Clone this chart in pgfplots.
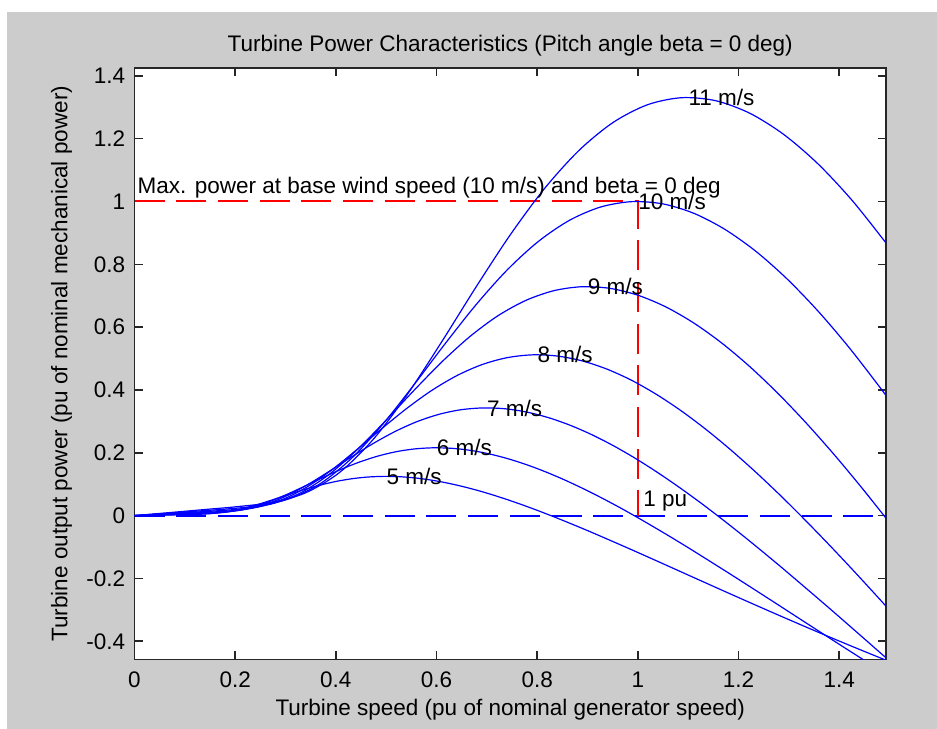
\documentclass[border=0pt]{standalone}
\usepackage{pgfplots}
\pgfplotsset{compat=1.18}
\usepackage{fontspec}
\setmainfont{Liberation Sans}
\definecolor{figgray}{HTML}{CCCCCC}
\definecolor{axgray}{HTML}{262626}
\definecolor{mblue}{RGB}{0,0,255}
\definecolor{mred}{RGB}{255,0,0}
\begin{document}
\fontsize{11.25bp}{13bp}\selectfont
\begin{tikzpicture}
\fill[white] (-67.25bp,-34.75bp) rectangle (401.25bp,329.75bp);
\fill[figgray] (-63.75bp,-34.75bp) rectangle (401.25bp,323.75bp);
\begin{axis}[
  at={(0,0)}, anchor=south west,
  scale only axis, width=375.75bp, height=295.75bp,
  xmin=0, xmax=1.493, ymin=-0.458, ymax=1.425,
  axis background/.style={fill=white},
  axis line style={line width=0.8bp, color=axgray},
  tick style={line width=0.8bp, color=axgray},
  major tick length=4bp, tick align=inside, tick pos=both,
  xtick={0,0.2,0.4,0.6,0.8,1,1.2,1.4},
  xticklabels={0,0.2,0.4,0.6,0.8,1,1.2,1.4},
  ytick={-0.4,-0.2,0,0.2,0.4,0.6,0.8,1,1.2,1.4},
  yticklabels={-0.4,-0.2,0,0.2,0.4,0.6,0.8,1,1.2,1.4},
  /pgf/number format/assume math mode=true,
  xticklabel style={inner sep=0pt, anchor=north, yshift=-6bp},
  yticklabel style={inner sep=0pt, anchor=east, xshift=-4.5bp},
  every axis title/.style={at={(axis description cs:0.5,1.0287)}, anchor=base, inner sep=0pt},
  every axis x label/.style={at={(axis description cs:0.5,-0.0955)}, anchor=base, inner sep=0pt},
  every axis y label/.style={at={(axis description cs:-0.0892,0.5)}, anchor=base, rotate=90, inner sep=0pt},
  title={Turbine Power Characteristics (Pitch angle beta = 0 deg)},
  xlabel={Turbine speed (pu of nominal generator speed)},
  ylabel={Turbine output power (pu of nominal mechanical power)},
  clip=true,
]
% zero line and max-power marker
\addplot[mblue, line width=1bp, dash pattern=on 15bp off 5.85bp] coordinates {(0,0) (1.5,0)};
\addplot[mred, line width=1bp, dash pattern=on 15bp off 5.85bp] coordinates {(0,1) (1,1) (1,0)};
% 5 m/s
\addplot[mblue, line width=0.6bp, smooth] coordinates {
(0,0) (0.0617,0.0018) (0.0926,0.0027) (0.1235,0.0039) (0.1543,0.0068) (0.1852,0.0129) (0.2160,0.0230) (0.2469,0.0365) (0.2778,0.0522) (0.3086,0.0685) (0.3395,0.0840) (0.3704,0.0978) (0.4012,0.1091) (0.4321,0.1175) (0.4630,0.1228) (0.4938,0.1249) (0.5247,0.1241) (0.5556,0.1203) (0.5864,0.1139) (0.6173,0.1051) (0.6481,0.0942) (0.6790,0.0814) (0.7099,0.0669) (0.7407,0.0509) (0.7716,0.0337) (0.8025,0.0154) (0.8333,-0.0038) (0.8642,-0.0238) (0.8951,-0.0443) (0.9259,-0.0654) (0.9877,-0.1086) (1.0494,-0.1527) (1.1111,-0.1971) (1.1728,-0.2414) (1.2346,-0.2853) (1.2963,-0.3285) (1.3580,-0.3709) (1.4198,-0.4124) (1.4815,-0.4528) (1.5,-0.4647)};
% 6 m/s
\addplot[mblue, line width=0.6bp, smooth] coordinates {
(0,0) (0.0741,0.0031) (0.1111,0.0046) (0.1481,0.0068) (0.1852,0.0117) (0.2222,0.0223) (0.2593,0.0397) (0.2963,0.0631) (0.3333,0.0901) (0.3704,0.1183) (0.4074,0.1452) (0.4444,0.1691) (0.4815,0.1886) (0.5185,0.2031) (0.5556,0.2122) (0.5926,0.2159) (0.6296,0.2144) (0.6667,0.2079) (0.7037,0.1969) (0.7407,0.1817) (0.7778,0.1628) (0.8148,0.1406) (0.8519,0.1155) (0.8889,0.0879) (0.9259,0.0582) (0.9630,0.0266) (1.0,-0.0066) (1.0370,-0.0411) (1.0741,-0.0766) (1.1111,-0.1130) (1.1852,-0.1877) (1.2593,-0.2638) (1.3333,-0.3406) (1.4074,-0.4171) (1.4815,-0.4929) (1.5,-0.5117)};
% 7 m/s
\addplot[mblue, line width=0.6bp, smooth] coordinates {
(0,0) (0.0864,0.0049) (0.1296,0.0073) (0.1728,0.0108) (0.2160,0.0186) (0.2593,0.0354) (0.3025,0.0631) (0.3457,0.1002) (0.3889,0.1431) (0.4321,0.1879) (0.4753,0.2306) (0.5185,0.2685) (0.5617,0.2995) (0.6049,0.3225) (0.6481,0.3370) (0.6914,0.3428) (0.7346,0.3404) (0.7778,0.3301) (0.8210,0.3126) (0.8642,0.2885) (0.9074,0.2585) (0.9506,0.2233) (0.9938,0.1835) (1.0370,0.1396) (1.0802,0.0924) (1.1235,0.0422) (1.1667,-0.0105) (1.2099,-0.0652) (1.2531,-0.1217) (1.2963,-0.1795) (1.3827,-0.2980) (1.4691,-0.4190) (1.5,-0.4624)};
% 8 m/s
\addplot[mblue, line width=0.6bp, smooth] coordinates {
(0,0) (0.0988,0.0073) (0.1481,0.0109) (0.1975,0.0161) (0.2469,0.0278) (0.2963,0.0529) (0.3457,0.0941) (0.3951,0.1495) (0.4444,0.2137) (0.4938,0.2804) (0.5432,0.3442) (0.5926,0.4007) (0.6420,0.4470) (0.6914,0.4814) (0.7407,0.5030) (0.7901,0.5118) (0.8395,0.5081) (0.8889,0.4928) (0.9383,0.4666) (0.9877,0.4307) (1.0370,0.3859) (1.0864,0.3333) (1.1358,0.2738) (1.1852,0.2084) (1.2346,0.1379) (1.2840,0.0630) (1.3333,-0.0157) (1.3827,-0.0974) (1.4321,-0.1816) (1.4815,-0.2679) (1.5,-0.3011)};
% 9 m/s
\addplot[mblue, line width=0.6bp, smooth] coordinates {
(0,0) (0.1111,0.0103) (0.1667,0.0156) (0.2222,0.0229) (0.2778,0.0396) (0.3333,0.0752) (0.3889,0.1340) (0.4444,0.2129) (0.5,0.3042) (0.5556,0.3993) (0.6111,0.4901) (0.6667,0.5706) (0.7222,0.6365) (0.7778,0.6854) (0.8333,0.7162) (0.8889,0.7287) (0.9444,0.7235) (1.0,0.7017) (1.0556,0.6644) (1.1111,0.6132) (1.1667,0.5494) (1.2222,0.4746) (1.2778,0.3899) (1.3333,0.2968) (1.3889,0.1963) (1.4444,0.0896) (1.5,-0.0223)};
% 10 m/s
\addplot[mblue, line width=0.6bp, smooth] coordinates {
(0,0) (0.1235,0.0142) (0.1852,0.0214) (0.2469,0.0314) (0.3086,0.0543) (0.3704,0.1032) (0.4321,0.1838) (0.4938,0.2920) (0.5556,0.4173) (0.6173,0.5477) (0.6790,0.6723) (0.7407,0.7827) (0.8025,0.8731) (0.8642,0.9402) (0.9259,0.9824) (0.9877,0.9995) (1.0494,0.9925) (1.1111,0.9625) (1.1728,0.9114) (1.2346,0.8412) (1.2963,0.7537) (1.3580,0.6510) (1.4198,0.5348) (1.4815,0.4071) (1.5,0.3666)};
% 11 m/s
\addplot[mblue, line width=0.6bp, smooth] coordinates {
(0,0) (0.1358,0.0189) (0.2037,0.0285) (0.2716,0.0418) (0.3395,0.0723) (0.4074,0.1374) (0.4753,0.2447) (0.5432,0.3886) (0.6111,0.5554) (0.6790,0.7290) (0.7469,0.8948) (0.8148,1.0417) (0.8827,1.1621) (0.9506,1.2514) (1.0185,1.3076) (1.0864,1.3304) (1.1543,1.3210) (1.2222,1.2811) (1.2901,1.2131) (1.3580,1.1196) (1.4259,1.0031) (1.4938,0.8664) (1.5,0.8525)};
% labels
\node[anchor=base west, inner sep=0pt] at (axis cs:1.1,1.305) {11 m/s};
\node[anchor=base west, inner sep=0pt] at (axis cs:1.0,0.974) {10 m/s};
\node[anchor=base west, inner sep=0pt] at (axis cs:0.9,0.703) {9 m/s};
\node[anchor=base west, inner sep=0pt] at (axis cs:0.8,0.486) {8 m/s};
\node[anchor=base west, inner sep=0pt] at (axis cs:0.7,0.317) {7 m/s};
\node[anchor=base west, inner sep=0pt] at (axis cs:0.6,0.190) {6 m/s};
\node[anchor=base west, inner sep=0pt] at (axis cs:0.5,0.099) {5 m/s};
\node[anchor=base west, inner sep=0pt] at (axis cs:1.01,0.028) {1 pu};
\node[anchor=base west, inner sep=0pt] at (axis cs:0.0056,1.024) {Max. power at base wind speed (10 m/s) and beta = 0 deg};
\end{axis}
\pgfresetboundingbox
\path[use as bounding box] (-67.25bp,-34.75bp) rectangle (401.25bp,329.75bp);
\end{tikzpicture}
\end{document}
